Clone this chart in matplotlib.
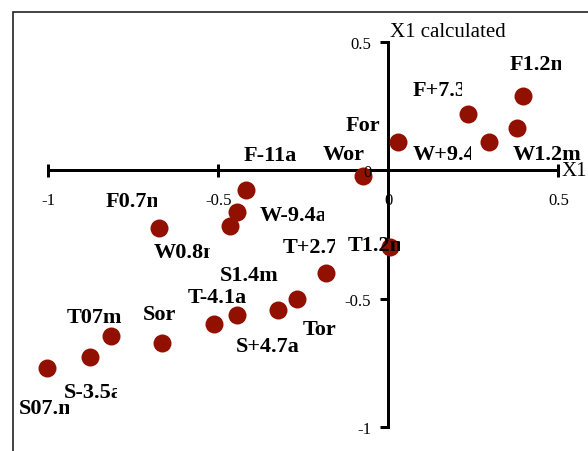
import matplotlib
matplotlib.use("Agg")
import matplotlib.pyplot as plt
from matplotlib.patches import Rectangle
from matplotlib.transforms import Bbox

# ---- data ----
labels = ["F1.2m", "F+7.3a", "W1.2m", "W+9.4a", "For", "Wor", "F-11a", "W-9.4a",
          "W0.8m", "F0.7m", "T1.2m", "T+2.7a", "Tor", "S1.4m", "S+4.7a", "T-4.1a",
          "Sor", "T07m", "S-3.5a", "S07.m"]
x_vals = [0.397, 0.235, 0.379, 0.297, 0.029, -0.075, -0.419, -0.446,
          -0.466, -0.674, 0.005, -0.184, -0.268, -0.325, -0.444, -0.514,
          -0.665, -0.816, -0.877, -1.005]
y_vals = [0.291, 0.220, 0.166, 0.110, 0.110, -0.023, -0.076, -0.161,
          -0.217, -0.225, -0.299, -0.399, -0.501, -0.544, -0.563, -0.599,
          -0.672, -0.644, -0.726, -0.771]
tick_vals = [-1, -0.5, 0, 0.5]
tick_labels = ["-1", "-0.5", "0", "0.5"]
x_title = "X1"
y_title = "X1 calculated"

# ---- label layout (pixel offsets from point: left edge, baseline; y downward) ----
label_dx = [-14, -56, -5, -76.6, -52.3, -40.4, -2.7, 23.3,
            -76.7, -53.3, -42.7, -42.7, 5.4, -58.4, -1.3, -25.4,
            -19, -44.3, -26.7, -27.4]
label_dy = [-26.5, -18.5, 31.5, 16.9, -11.8, -17.1, -30.2, 8.1,
            30.9, -21.8, 2.5, -20.5, 34.8, -30.2, 36.5, -21.8,
            -23.8, -14.2, 40.5, 44.9]
# visible width of each label box in pixels (None = unclipped)
label_clip = [52, 49.5, None, 58, None, None, None, 64,
              56.5, 51.5, 52.7, 52, None, None, None, None,
              None, None, 54, 50]

DPI = 100
fig = plt.figure(figsize=(5.88, 4.52), dpi=DPI)
ax = fig.add_axes([0, 0, 1, 1])
ax.set_xlim(-1.142, 0.587)
ax.set_ylim(-1.093, 0.668)
ax.patch.set_visible(False)

serif = "Liberation Serif"
px2pt = 72.0 / DPI

for s in ["top", "right"]:
    ax.spines[s].set_visible(False)
ax.spines["bottom"].set_position(("data", 0))
ax.spines["left"].set_position(("data", 0))
ax.spines["bottom"].set_bounds(-1, 0.5)
ax.spines["left"].set_bounds(-1, 0.5)
for s in ["bottom", "left"]:
    ax.spines[s].set_linewidth(3 * px2pt)
    ax.spines[s].set_color("black")
    ax.spines[s].set_zorder(2)

ax.set_xticks(tick_vals)
ax.set_xticklabels(tick_labels, fontfamily=serif, fontsize=12)
ax.set_yticks(tick_vals)
ax.set_yticklabels(tick_labels, fontfamily=serif, fontsize=12)
ax.tick_params(axis="x", direction="inout", length=13 * px2pt, width=3 * px2pt,
               pad=11, colors="black")
ax.tick_params(axis="y", direction="out", length=8 * px2pt, width=3 * px2pt,
               pad=6.5, colors="black")
ax.xaxis.set_zorder(5)
ax.yaxis.set_zorder(5)

ax.scatter(x_vals, y_vals, s=(18 * px2pt) ** 2, color="#921000", zorder=3,
           linewidths=0)

ax.annotate(x_title, (0.5, 0), xytext=(3 * px2pt, 0), textcoords="offset points",
            fontfamily=serif, fontsize=15, ha="left", va="center", zorder=6)
ax.annotate(y_title, (0, 0.5), xytext=(2 * px2pt, 6 * px2pt), textcoords="offset points",
            fontfamily=serif, fontsize=15, ha="left", va="baseline", zorder=6)

# labels
for i, lab in enumerate(labels):
    t = ax.annotate(lab, (x_vals[i], y_vals[i]),
                    xytext=(label_dx[i] * px2pt, -label_dy[i] * px2pt),
                    textcoords="offset points", fontfamily=serif,
                    fontweight="bold", fontsize=16, ha="left", va="baseline",
                    zorder=6)
    if label_clip[i] is not None:
        px, py = ax.transData.transform((x_vals[i], y_vals[i]))
        left = px + label_dx[i]
        base = py - label_dy[i]
        t.set_clip_on(True)
        t.set_clip_box(Bbox.from_extents(left - 3, base - 12, left + label_clip[i], base + 25))

# outer frame (extends beyond the image to the right and bottom)
fig.add_artist(Rectangle((13 / 588, -0.5), 2, 0.5 + (1 - 12.5 / 452), transform=fig.transFigure,
                         fill=False, edgecolor="#1a1a1a", linewidth=1.6 * px2pt))

fig.savefig("out.png", dpi=DPI)
